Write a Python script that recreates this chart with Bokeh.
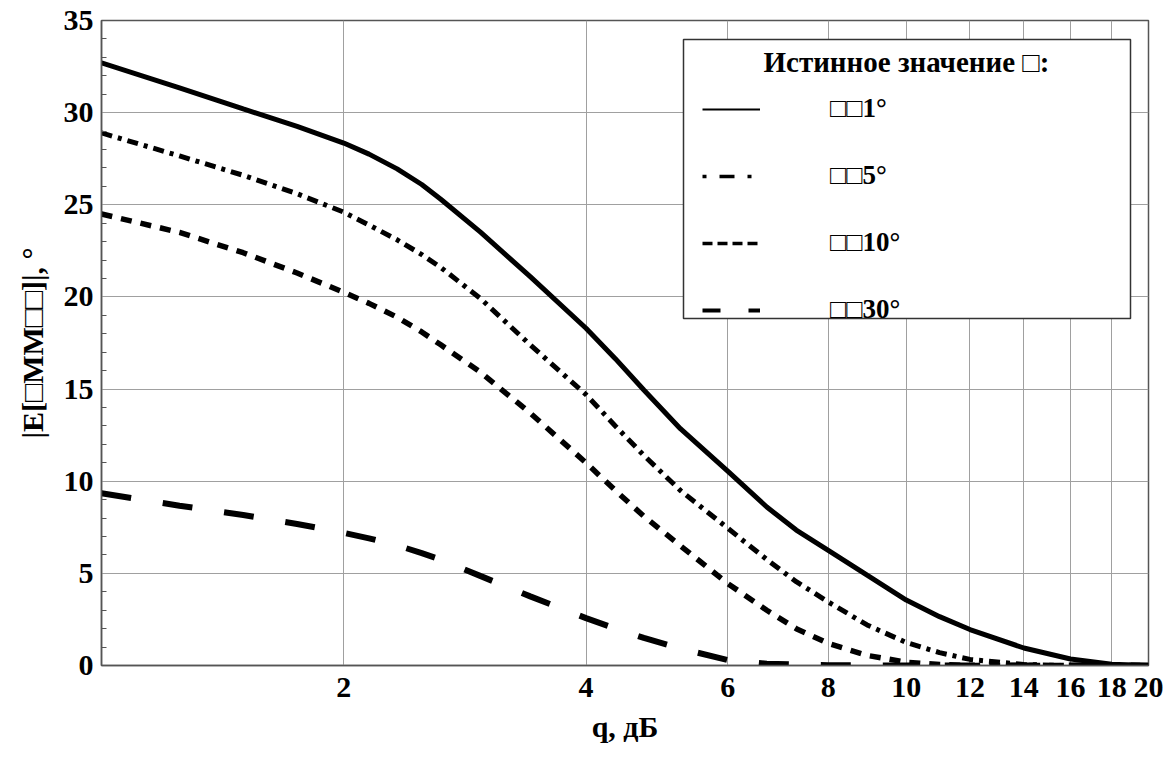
import numpy as np
from bokeh.plotting import figure
from bokeh.models import (FixedTicker, PrintfTickFormatter, Legend, LegendItem,
                          BoxAnnotation, Label, Range1d)
from bokeh.embed import file_html
from bokeh.resources import INLINE

# ---- data ----
q_db = [1, 1.25, 1.5, 1.75, 2, 2.15, 2.33, 2.5, 2.64, 2.96, 3.41, 4, 4.35, 4.72,
        5.24, 6, 6.71, 7.3, 8, 8.94, 10, 11, 12, 14, 16, 18, 20]
err_1 = [32.7, 31.35, 30.2, 29.25, 28.35, 27.75, 26.95, 26.1, 25.3, 23.5, 21.1,
         18.3, 16.65, 14.95, 12.85, 10.55, 8.6, 7.35, 6.25, 4.9, 3.55, 2.65,
         1.95, 0.95, 0.35, 0.07, 0.0]
err_5 = [28.9, 27.65, 26.6, 25.6, 24.6, 23.9, 23.1, 22.3, 21.6, 19.9, 17.4,
         14.7, 13.0, 11.4, 9.5, 7.45, 5.75, 4.55, 3.45, 2.2, 1.25, 0.7, 0.33,
         0.05, 0.0, 0.0, 0.0]
err_10 = [24.5, 23.5, 22.4, 21.3, 20.25, 19.65, 18.9, 18.1, 17.4, 15.9, 13.7,
          11.0, 9.5, 8.1, 6.5, 4.45, 3.0, 2.0, 1.2, 0.55, 0.18, 0.05, 0.0, 0.0,
          0.0, 0.0, 0.0]
err_30 = [9.35, 8.67, 8.17, 7.68, 7.2, 6.9, 6.52, 6.1, 5.75, 4.85, 3.75, 2.57,
          2.0, 1.5, 0.92, 0.3, 0.1, 0.05, 0.02, 0.0, 0.0, 0.0, 0.0, 0.0, 0.0,
          0.0, 0.0]

series_labels = ["□□1°", "□□5°", "□□10°", "□□30°"]
legend_title = "Истинное значение □:"
x_ticks = [2, 4, 6, 8, 10, 12, 14, 16, 18, 20]
y_ticks = [0, 5, 10, 15, 20, 25, 30, 35]
y_minor = [v for v in range(0, 36) if v % 5 != 0]

FONT = "Liberation Serif"
AX = "#555555"

p = figure(width=1171, height=762, x_axis_type="log",
           x_range=Range1d(1, 20), y_range=Range1d(0, 35),
           output_backend="svg", toolbar_location=None, title=None,
           min_border_left=101, min_border_right=23,
           min_border_top=20, min_border_bottom=97)
p.background_fill_color = "white"
p.border_fill_color = "white"
p.outline_line_color = AX
p.outline_line_width = 1.5

# axes
p.xaxis.ticker = FixedTicker(ticks=x_ticks, minor_ticks=[])
p.xaxis.formatter = PrintfTickFormatter(format="%d")
p.yaxis.ticker = FixedTicker(ticks=y_ticks, minor_ticks=y_minor)
for ax in (p.xaxis, p.yaxis):
    ax.axis_line_color = AX
    ax.axis_line_width = 1.5
    ax.major_tick_in = 0
    ax.major_tick_out = 0
    ax.major_label_text_font = FONT
    ax.major_label_text_font_style = "bold"
    ax.major_label_text_font_size = "30px"
    ax.major_label_text_color = "black"
    ax.axis_label_text_font = FONT
    ax.axis_label_text_font_style = "bold"
    ax.axis_label_text_color = "black"
p.xaxis.minor_tick_line_color = None
p.yaxis.minor_tick_in = 5
p.yaxis.minor_tick_out = 0
p.yaxis.minor_tick_line_color = AX
p.xaxis.major_label_standoff = 12
p.yaxis.major_label_standoff = 8
p.xaxis.axis_label = "q, дБ"
p.xaxis.axis_label_text_font_size = "30px"
p.xaxis.axis_label_standoff = 10
p.yaxis.axis_label = "|E[□MM□□]|, °"
p.yaxis.axis_label_text_font_size = "30px"
p.yaxis.axis_label_standoff = 12

p.grid.grid_line_color = "#a0a0a0"
p.grid.grid_line_width = 1

# curves
p.line(q_db, err_1, line_color="black", line_width=5)
p.line(q_db, err_5, line_color="black", line_width=5, line_dash="11 6 4 6")
p.line(q_db, err_10, line_color="black", line_width=5.5, line_dash="11 9")
p.line(q_db, err_30, line_color="black", line_width=6, line_dash="30 32")

# legend-only renderers (a single undefined point, so nothing is drawn in the plot)
lx = np.array([1.0])
ly = np.array([np.nan])
l1 = p.line(lx, ly, line_color="black", line_width=2)
l2 = p.line(lx, ly, line_color="black", line_width=3.5, line_dash="4 13 15 13")
l3 = p.line(lx, ly, line_color="black", line_width=3.5, line_dash="10 5")
l4 = p.line(lx, ly, line_color="black", line_width=4, line_dash="18 28")

box = BoxAnnotation(left=582, right=1029, top=626, bottom=347,
                    left_units="screen", right_units="screen",
                    top_units="screen", bottom_units="screen",
                    fill_color="white", fill_alpha=1.0,
                    line_color="#333333", line_width=1.5, line_alpha=1.0)
p.add_layout(box)

legend = Legend(items=[LegendItem(label=lab, renderers=[r])
                       for lab, r in zip(series_labels, [l1, l2, l3, l4])],
                location=(601, 340), padding=0, margin=0,
                border_line_color=None, background_fill_alpha=0.0,
                glyph_width=58, glyph_height=26, label_height=26,
                spacing=36, label_standoff=70,
                label_text_font=FONT, label_text_font_style="bold",
                label_text_font_size="27px", label_text_color="black")
p.add_layout(legend)

title = Label(x=805, y=604, x_units="screen", y_units="screen",
              text=legend_title, text_align="center",
              text_baseline="middle", text_font=FONT, text_font_style="bold",
              text_font_size="29px", text_color="black")
p.add_layout(title)

open("out.html", "w").write(file_html(p, INLINE))
